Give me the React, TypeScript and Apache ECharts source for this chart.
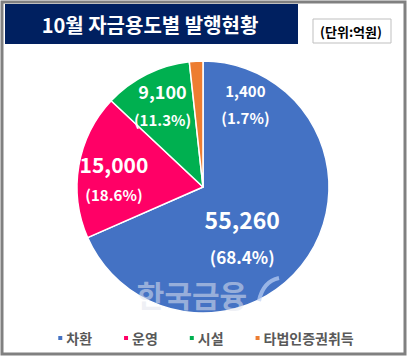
import React, { useEffect, useRef } from "react";
import * as echarts from "echarts";

const title = "10월 자금용도별 발행현황";
const unitLabel = "(단위:억원)";
const categories = ["차환", "운영", "시설", "타법인증권취득"];
const values = [55260, 15000, 9100, 1400];
const percents = ["68.4%", "18.6%", "11.3%", "1.7%"];
const colors = ["#4472C4", "#FF0066", "#00B050", "#ED7D31"];

const labelStyles = [
  { offset: [-16, 14], v: 23, p: 17, lv: 38, lp: 36 },
  { offset: [-24, 3], v: 21, p: 15, lv: 32, lp: 30 },
  { offset: [-11, -23], v: 18, p: 15, lv: 29, lp: 27 },
  { offset: [46, -17], v: 15, p: 15, lv: 27, lp: 27 },
];

const FONT = "'Noto Sans CJK KR', 'Noto Sans', sans-serif";

export default function App() {
  const ref = useRef<HTMLDivElement>(null);
  useEffect(() => {
    if (!ref.current) return;
    const chart = echarts.init(ref.current, null, { renderer: "svg" });
    const data = categories.map((name, i) => ({
      name,
      value: values[i],
      itemStyle: { color: colors[i] },
      label: {
        offset: labelStyles[i].offset,
        rich: {
          v: { fontSize: labelStyles[i].v, fontWeight: "bold", color: "#fff", fontFamily: FONT, lineHeight: labelStyles[i].lv },
          p: { fontSize: labelStyles[i].p, fontWeight: "bold", color: "#fff", fontFamily: FONT, lineHeight: labelStyles[i].lp },
        },
      },
    }));
    chart.setOption({
      animation: false,
      backgroundColor: "#fff",
      textStyle: { fontFamily: FONT },
      legend: {
        data: categories,
        top: 326,
        left: "center",
        icon: "rect",
        itemWidth: 6,
        itemHeight: 6,
        itemGap: 30,
        textStyle: { fontSize: 14, fontWeight: "bold", color: "#595959", fontFamily: FONT, padding: [0, 0, 0, -2] },
      },
      graphic: [
        { type: "rect", shape: { x: 2, y: 2, width: 403, height: 352 }, style: { fill: "none", stroke: "#808080", lineWidth: 3 }, z: 100 },
        { type: "rect", shape: { x: 5, y: 4, width: 293, height: 40 }, style: { fill: "#002060" } },
        { type: "text", x: 150, y: 24, style: { text: title, fill: "#fff", font: `bold 20px ${FONT}`, textAlign: "center", textVerticalAlign: "middle" } },
        { type: "rect", shape: { x: 313, y: 19, width: 78, height: 24 }, style: { fill: "#fff", stroke: "#BFBFBF", lineWidth: 1 } },
        { type: "text", x: 351, y: 31, style: { text: unitLabel, fill: "#000", font: `bold 13px ${FONT}`, textAlign: "center", textVerticalAlign: "middle" } },
        { type: "text", x: 192, y: 294, z: 50, style: { text: "한국금융", fill: "rgba(225,228,238,0.55)", font: `bold 30px ${FONT}`, textAlign: "center", textVerticalAlign: "middle" } },
        { type: "bezierCurve", z: 50, shape: { x1: 259, y1: 301, x2: 279, y2: 278, cpx1: 262, cpy1: 286, cpx2: 270, cpy2: 280 }, style: { stroke: "rgba(190,210,245,0.7)", lineWidth: 4, fill: "none" } },
      ],
      series: [
        {
          type: "pie",
          center: [203, 187],
          radius: [0, 126],
          startAngle: 90,
          clockwise: true,
          avoidLabelOverlap: false,
          itemStyle: { borderColor: "#fff", borderWidth: 1.5 },
          label: {
            show: true,
            position: "inside",
            formatter: (p: any) => `{v|${values[p.dataIndex].toLocaleString("en-US")}}\n{p|(${percents[p.dataIndex]})}`,
          },
          labelLine: { show: false },
          emphasis: { disabled: true },
          data,
        },
      ],
    });
    return () => chart.dispose();
  }, []);
  return <div ref={ref} style={{ position: "fixed", left: 0, top: 0, width: 410, height: 357 }} />;
}
